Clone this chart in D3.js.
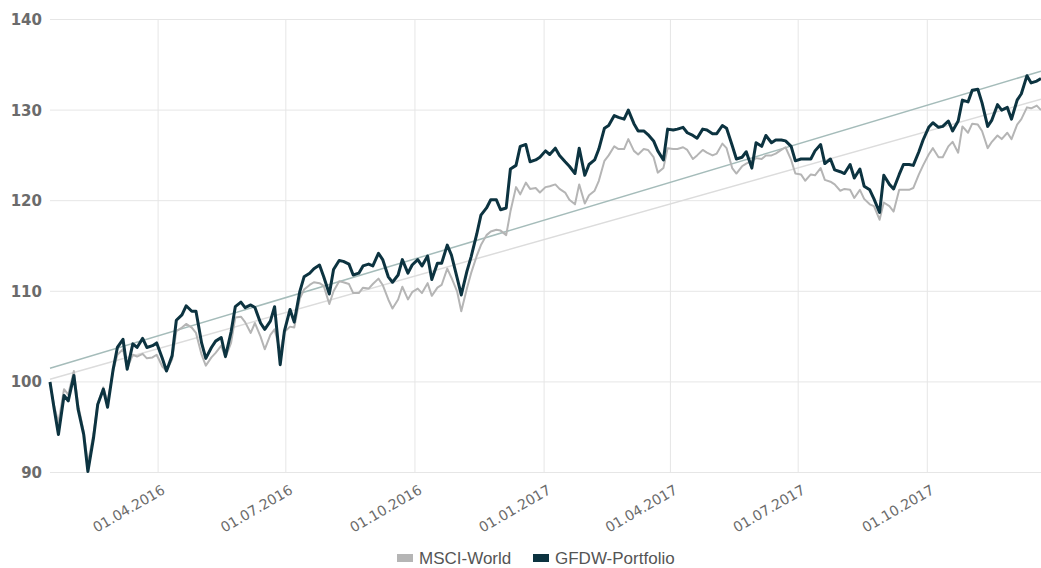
<!DOCTYPE html>
<meta charset="utf-8">
<body style="margin:0;background:#fff">
<svg width="1041" height="568"></svg>
<script src="https://cdnjs.cloudflare.com/ajax/libs/d3/7.8.5/d3.min.js"></script>
<script>

// twice-weekly closes (index = 100 at start)
var dates = ["2016-01-15",
  "2016-01-18","2016-01-21","2016-01-25","2016-01-28",
  "2016-02-01","2016-02-04","2016-02-08","2016-02-11","2016-02-15","2016-02-18","2016-02-22","2016-02-25","2016-02-29","2016-03-03",
  "2016-03-07","2016-03-10","2016-03-14","2016-03-17","2016-03-21","2016-03-24","2016-03-28","2016-03-31",
  "2016-04-04","2016-04-07","2016-04-11","2016-04-14","2016-04-18","2016-04-21","2016-04-25","2016-04-28",
  "2016-05-02","2016-05-05","2016-05-09","2016-05-12","2016-05-16","2016-05-19","2016-05-23","2016-05-26","2016-05-30","2016-06-02",
  "2016-06-06","2016-06-09","2016-06-13","2016-06-16","2016-06-20","2016-06-23","2016-06-27","2016-06-30",
  "2016-07-04","2016-07-07","2016-07-11","2016-07-14","2016-07-18","2016-07-21","2016-07-25","2016-07-28",
  "2016-08-01","2016-08-04","2016-08-08","2016-08-11","2016-08-15","2016-08-18","2016-08-22","2016-08-25","2016-08-29","2016-09-01",
  "2016-09-05","2016-09-08","2016-09-12","2016-09-15","2016-09-19","2016-09-22","2016-09-26","2016-09-29",
  "2016-10-03","2016-10-06","2016-10-10","2016-10-13","2016-10-17","2016-10-20","2016-10-24","2016-10-27","2016-10-31","2016-11-03",
  "2016-11-07","2016-11-10","2016-11-14","2016-11-17","2016-11-21","2016-11-24","2016-11-28","2016-12-01",
  "2016-12-05","2016-12-08","2016-12-12","2016-12-15","2016-12-19","2016-12-22","2016-12-26","2016-12-29",
  "2017-01-02","2017-01-05","2017-01-09","2017-01-12","2017-01-16","2017-01-19","2017-01-23","2017-01-26","2017-01-30","2017-02-02",
  "2017-02-06","2017-02-09","2017-02-13","2017-02-16","2017-02-20","2017-02-23","2017-02-27","2017-03-02",
  "2017-03-06","2017-03-09","2017-03-13","2017-03-16","2017-03-20","2017-03-23","2017-03-27","2017-03-30",
  "2017-04-03","2017-04-06","2017-04-10","2017-04-13","2017-04-17","2017-04-20","2017-04-24","2017-04-27",
  "2017-05-01","2017-05-04","2017-05-08","2017-05-11","2017-05-15","2017-05-18","2017-05-22","2017-05-25","2017-05-29","2017-06-01",
  "2017-06-05","2017-06-08","2017-06-12","2017-06-15","2017-06-19","2017-06-22","2017-06-26","2017-06-29",
  "2017-07-03","2017-07-06","2017-07-10","2017-07-13","2017-07-17","2017-07-20","2017-07-24","2017-07-27","2017-07-31","2017-08-03",
  "2017-08-07","2017-08-10","2017-08-14","2017-08-17","2017-08-21","2017-08-24","2017-08-28","2017-08-31",
  "2017-09-04","2017-09-07","2017-09-11","2017-09-14","2017-09-18","2017-09-21","2017-09-25","2017-09-28",
  "2017-10-02","2017-10-05","2017-10-09","2017-10-12","2017-10-16","2017-10-19","2017-10-23","2017-10-26","2017-10-30","2017-11-02",
  "2017-11-06","2017-11-09","2017-11-13","2017-11-16","2017-11-20","2017-11-23","2017-11-27","2017-11-30",
  "2017-12-04","2017-12-07","2017-12-11","2017-12-14","2017-12-18","2017-12-21"];

var portfolio = [100.0,
  97.0,94.2, 98.5,97.9, 100.7,97.0, 94.2,90.1, 93.8,97.5, 99.2,97.2, 101.4,103.8, 104.7,101.4, 104.2,103.8, 104.8,103.8,
  104.0,104.3, 102.6,101.2, 102.9,106.8, 107.4,108.4, 107.8,107.8, 104.3,102.6, 103.8,104.5, 104.9,102.8, 105.5,108.3, 108.8,108.2,
  108.5,108.2, 106.5,105.8, 106.7,108.3, 101.9,105.6, 108.0,106.6, 110.0,111.6, 112.0,112.5, 112.9,111.6, 109.7,112.4, 113.4,113.3,
  113.0,111.8, 112.0,112.8, 113.0,112.8, 114.2,113.5, 111.6,111.0, 111.8,113.5, 112.0,112.9, 113.5,112.8, 113.9,111.3, 113.1,113.1,
  115.1,114.0, 111.5,109.6, 112.2,113.8, 116.3,118.4, 119.2,120.1, 120.1,119.0, 119.2,123.5, 123.9,126.0, 126.2,124.3, 124.5,124.8,
  125.5,125.1, 125.8,125.0, 124.3,123.8, 123.0,125.8, 122.8,124.0, 124.5,125.7, 128.0,128.3, 129.4,129.2, 129.0,130.0, 128.5,127.7,
  127.7,127.3, 126.6,125.5, 124.5,127.9, 127.8,127.9, 128.1,127.5, 127.2,126.9, 127.9,127.8, 127.4,127.4, 128.3,128.0, 126.1,124.6,
  124.8,125.4, 123.6,126.4, 126.0,127.2, 126.4,126.7, 126.7,126.6, 126.0,124.4, 124.6,124.6, 124.6,125.5, 126.2,124.1, 124.6,123.4,
  123.2,123.0, 124.0,122.5, 123.5,121.6, 121.2,120.2, 118.7,122.8, 121.8,121.3, 122.9,124.0, 124.0,123.9, 125.4,126.7, 128.1,128.6,
  128.1,128.2, 128.8,127.7, 128.8,131.1, 130.9,132.2, 132.3,130.8, 128.2,128.9, 130.6,130.0, 130.3,129.0, 131.1,131.8, 133.8,133.0, 133.2,133.5];

var msci = [100.0,
  97.3,95.5, 99.2,98.6, 101.2,97.5, 94.5,91.0, 94.3,97.6, 99.4,97.8, 101.2,103.0, 103.6,101.5, 103.0,102.8, 103.1,102.6,
  102.7,103.0, 101.7,101.2, 102.5,105.6, 106.0,106.4, 106.0,105.4, 103.0,101.8, 102.7,103.2, 104.0,102.7, 104.3,107.1, 107.2,106.6,
  105.4,106.5, 105.0,103.6, 105.2,105.8, 103.3,105.5, 106.1,106.0, 109.2,110.2, 110.7,111.0, 110.9,110.6, 108.6,110.0, 111.1,111.0,
  110.8,109.8, 109.8,110.4, 110.3,110.8, 111.4,110.7, 109.1,108.1, 109.1,110.5, 109.1,109.9, 110.3,109.8, 110.9,109.5, 110.4,110.7,
  112.5,111.5, 110.0,107.8, 110.3,112.0, 113.9,115.1, 116.2,116.6, 116.8,116.7, 116.2,118.8, 121.5,120.7, 122.0,121.3, 121.4,120.9,
  121.5,121.6, 121.8,121.3, 120.9,120.1, 119.6,121.8, 119.7,120.6, 121.1,122.2, 124.4,125.0, 126.0,125.7, 125.7,126.8, 125.5,125.1,
  125.7,125.6, 124.8,123.1, 123.6,125.8, 125.7,125.7, 125.9,125.6, 124.6,125.0, 125.6,125.3, 125.0,125.2, 126.3,125.8, 123.6,123.0,
  123.8,124.1, 124.4,124.7, 124.6,125.0, 125.0,125.2, 125.6,125.9, 124.5,123.0, 122.9,122.2, 122.9,122.8, 123.6,122.3, 122.1,121.8,
  121.1,121.3, 121.2,120.3, 121.2,120.2, 119.6,119.4, 117.9,119.8, 119.4,118.8, 121.2,121.2, 121.2,121.4, 122.9,123.9, 125.1,125.8,
  124.8,124.8, 126.0,126.5, 125.3,128.2, 127.5,128.5, 128.4,127.7, 125.8,126.5, 127.2,126.8, 127.5,126.8, 128.4,129.0, 130.3,130.2, 130.5,130.0];

// linear trend, value at first and last date
var trendPortfolio = [101.5, 134.3];
var trendMsci = [100.3, 131.2];

var yTicks = [90, 100, 110, 120, 130, 140];
var xTicks = ["2016-04-01", "2016-07-01", "2016-10-01", "2017-01-01", "2017-04-01", "2017-07-01", "2017-10-01"];
var seriesNames = ["MSCI-World", "GFDW-Portfolio"];

var svg = d3.select("svg");
var parseDate = d3.timeParse("%Y-%m-%d");
var fmt = d3.timeFormat("%d.%m.%Y");

var xDates = dates.map(parseDate);
var plotLeft = 50, plotRight = 1041, plotTop = 19.5, plotBottom = 472.5;

var x = d3.scaleTime().domain([xDates[0], xDates[xDates.length - 1]]).range([plotLeft, plotRight]);
var y = d3.scaleLinear().domain([90, 140]).range([plotBottom, plotTop]);

// grid
svg.append("g").selectAll("line").data(yTicks).enter().append("line")
  .attr("x1", plotLeft).attr("x2", plotRight)
  .attr("y1", d => y(d)).attr("y2", d => y(d))
  .attr("stroke", "#e6e6e6").attr("stroke-width", 1);

svg.append("g").selectAll("line").data(xTicks).enter().append("line")
  .attr("x1", d => x(parseDate(d))).attr("x2", d => x(parseDate(d)))
  .attr("y1", plotTop).attr("y2", plotBottom)
  .attr("stroke", "#e6e6e6").attr("stroke-width", 1);

// y labels
svg.append("g").selectAll("text").data(yTicks).enter().append("text")
  .attr("x", 42).attr("y", d => y(d))
  .attr("dy", "0.36em")
  .attr("text-anchor", "end")
  .style("font-family", "'DejaVu Sans', Verdana, sans-serif")
  .style("font-weight", "bold")
  .style("font-size", "15px")
  .style("fill", "#6b6b6b")
  .text(d => d);

// x axis
var xAxis = svg.append("g")
  .attr("transform", "translate(0," + plotBottom + ")")
  .call(d3.axisBottom(x).tickValues(xTicks.map(parseDate)).tickFormat(fmt).tickSize(0));
xAxis.select(".domain").remove();
xAxis.selectAll("text")
  .attr("x", 0).attr("y", 0).attr("dy", "0.35em")
  .attr("transform", "translate(5,16) rotate(-30)")
  .attr("text-anchor", "end")
  .style("font-family", "'DejaVu Sans', Verdana, sans-serif")
  .style("font-size", "14px")
  .style("fill", "#6b6b6b");

// trend lines
var first = xDates[0], last = xDates[xDates.length - 1];
svg.append("line")
  .attr("x1", x(first)).attr("y1", y(trendMsci[0]))
  .attr("x2", x(last)).attr("y2", y(trendMsci[1]))
  .attr("stroke", "#dcdcdc").attr("stroke-width", 1.5);
svg.append("line")
  .attr("x1", x(first)).attr("y1", y(trendPortfolio[0]))
  .attr("x2", x(last)).attr("y2", y(trendPortfolio[1]))
  .attr("stroke", "#a5bcba").attr("stroke-width", 1.5);

var line = d3.line()
  .x((d, i) => x(xDates[i]))
  .y(d => y(d));

svg.append("path")
  .attr("d", line(msci))
  .attr("fill", "none")
  .attr("stroke", "#b5b5b5")
  .attr("stroke-width", 2)
  .attr("stroke-linejoin", "round");

svg.append("path")
  .attr("d", line(portfolio))
  .attr("fill", "none")
  .attr("stroke", "#0c3340")
  .attr("stroke-width", 3)
  .attr("stroke-linejoin", "round");

// legend
var legendColors = ["#b5b5b5", "#0c3340"];
var legendX = [397, 533];
var legend = svg.append("g").selectAll("g").data(seriesNames).enter().append("g")
  .attr("transform", (d, i) => "translate(" + legendX[i] + ",558)");
legend.append("rect")
  .attr("x", 0).attr("y", -4).attr("width", 16).attr("height", 8)
  .attr("fill", (d, i) => legendColors[i]);
legend.append("text")
  .attr("x", 22).attr("dy", "0.36em")
  .style("font-family", "'Liberation Sans Narrow', 'Arial Narrow', sans-serif")
  .style("font-size", "17px")
  .style("fill", "#555")
  .text(d => d);

</script>
</body>
